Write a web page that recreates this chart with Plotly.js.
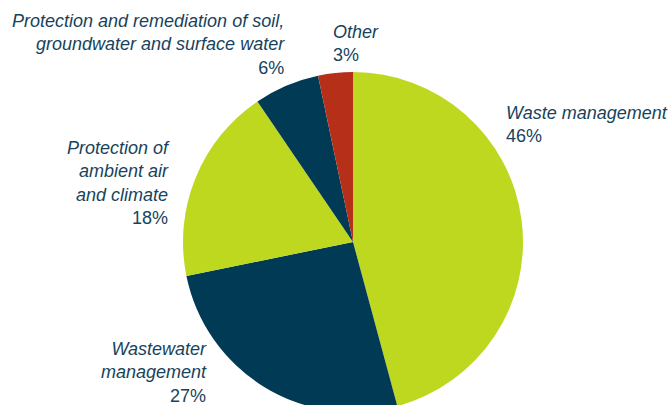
<!DOCTYPE html>
<html>
<head>
<meta charset="utf-8">
<script src="https://cdn.plot.ly/plotly-3.0.1.min.js"></script>
<style>
html,body{margin:0;padding:0;background:#fff;overflow:hidden;width:669px;height:405px;}
#chart{width:669px;height:460px;}
</style>
</head>
<body>
<div id="chart"></div>
<script>
// Categories (clockwise from 12 o'clock)
const categories = [
  "Waste management",
  "Wastewater management",
  "Protection of ambient air and climate",
  "Protection and remediation of soil, groundwater and surface water",
  "Other"
];
// Slice shares as drawn in the picture
const shares = [45.8, 26.0, 18.7, 6.2, 3.3];
// Percent labels as printed
const pctLabels = ["46%", "27%", "18%", "6%", "3%"];
// Label name lines as printed
const nameLines = [
  ["Waste management"],
  ["Wastewater", "management"],
  ["Protection of", "ambient air", "and climate"],
  ["Protection and remediation of soil,", "groundwater and surface water"],
  ["Other"]
];
const colors = ["#bed71f", "#003a54", "#bed71f", "#003a54", "#b52f19"];

const W = 669, H = 460;
const cx = 353, cy = 242, r = 170;

// label placement (layout)
const labelPos = [
  {x: 504, y: 124, anchor: "left"},
  {x: 209, y: 372, anchor: "right"},
  {x: 172, y: 183, anchor: "right"},
  {x: 287, y: 45, anchor: "right"},
  {x: 331, y: 43, anchor: "left"}
];

const textColor = "#17435c";
const annotations = categories.map((c, i) => {
  const p = labelPos[i];
  const txt = nameLines[i].map(l => "<i>" + l + "</i>").join("<br>") + "<br>" + pctLabels[i];
  return {
    xref: "paper", yref: "paper",
    x: p.x / W, y: 1 - p.y / H,
    xanchor: p.anchor, yanchor: "middle",
    align: p.anchor,
    showarrow: false,
    text: txt,
    font: {family: "Liberation Sans, Arial, sans-serif", size: 18, color: textColor}
  };
});

const trace = {
  type: "pie",
  labels: categories,
  values: shares,
  sort: false,
  direction: "clockwise",
  rotation: 0,
  textinfo: "none",
  hoverinfo: "label+percent",
  marker: {colors: colors, line: {width: 0}},
  domain: {x: [(cx - r) / W, (cx + r) / W], y: [1 - (cy + r) / H, 1 - (cy - r) / H]},
  showlegend: false
};

Plotly.newPlot("chart", [trace], {
  width: W, height: H,
  margin: {l: 0, r: 0, t: 0, b: 0},
  paper_bgcolor: "#ffffff",
  showlegend: false,
  annotations: annotations
}, {displayModeBar: false, staticPlot: true});
</script>
</body>
</html>
